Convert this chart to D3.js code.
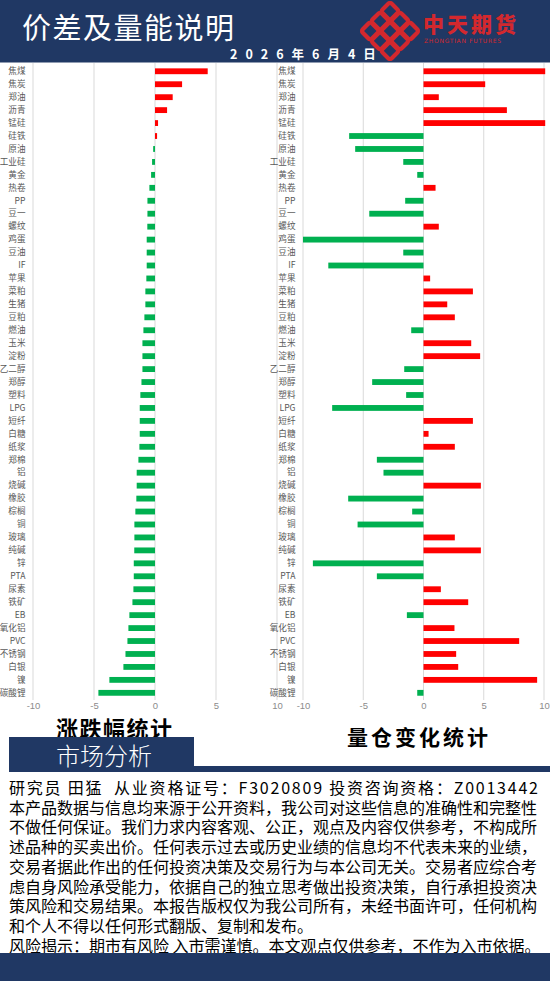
<!DOCTYPE html>
<html><head><meta charset="utf-8">
<script src="https://cdn.jsdelivr.net/npm/d3@7"></script>
<style>body{margin:0;background:#fff;} svg{display:block;}</style>
</head><body>
<svg id="c" width="550" height="981"></svg>
<script>
const categories = ["焦煤","焦炭","郑油","沥青","锰硅","硅铁","原油","工业硅","黄金","热卷","PP","豆一","螺纹","鸡蛋","豆油","IF","苹果","菜粕","生猪","豆粕","燃油","玉米","淀粉","乙二醇","郑醇","塑料","LPG","短纤","白糖","纸浆","郑棉","铝","烧碱","橡胶","棕榈","铜","玻璃","纯碱","锌","PTA","尿素","铁矿","EB","氧化铝","PVC","不锈钢","白银","镍","碳酸锂"];
const changePct = [4.32,2.22,1.45,0.99,0.25,0.17,-0.15,-0.24,-0.32,-0.46,-0.62,-0.62,-0.63,-0.68,-0.68,-0.68,-0.71,-0.79,-0.79,-0.87,-0.95,-1.03,-1.03,-1.03,-1.11,-1.2,-1.25,-1.25,-1.25,-1.28,-1.36,-1.5,-1.5,-1.53,-1.61,-1.69,-1.69,-1.7,-1.74,-1.74,-1.77,-1.85,-2.1,-2.18,-2.26,-2.42,-2.59,-3.74,-4.64];
const volumeChange = [10.1,5.12,1.27,6.92,10.1,-6.17,-5.67,-1.68,-0.52,1.0,-1.52,-4.5,1.27,-10,-1.68,-7.9,0.55,4.1,1.97,2.6,-1.02,3.96,4.7,-1.6,-4.26,-1.44,-7.58,4.1,0.42,2.6,-3.87,-3.32,4.76,-6.25,-0.94,-5.47,2.6,4.76,-9.18,-3.87,1.44,3.71,-1.38,2.57,7.94,2.71,2.88,9.43,-0.52];
const tickValues = [-10,-5,0,5,10];
const titleText = "价差及量能说明";
const dateText = "2026年6月4日";
const leftTitle = "涨跌幅统计";
const rightTitle = "量仓变化统计";
const sectionTitle = "市场分析";
const bodyLines = [
 "研究员 田猛  从业资格证号：F3020809 投资咨询资格：Z0013442",
 "本产品数据与信息均来源于公开资料，我公司对这些信息的准确性和完整性",
 "不做任何保证。我们力求内容客观、公正，观点及内容仅供参考，不构成所",
 "述品种的买卖出价。任何表示过去或历史业绩的信息均不代表未来的业绩，",
 "交易者据此作出的任何投资决策及交易行为与本公司无关。交易者应综合考",
 "虑自身风险承受能力，依据自己的独立思考做出投资决策，自行承担投资决",
 "策风险和交易结果。本报告版权仅为我公司所有，未经书面许可，任何机构",
 "和个人不得以任何形式翻版、复制和发布。",
 "风险揭示：期市有风险 入市需谨慎。本文观点仅供参考，不作为入市依据。"
];

const NAVY = "#203864", RED = "#ff0000", GREEN = "#00b050", GRID = "#d9d9d9";
const FONT = "'Noto Sans CJK SC','Noto Sans',sans-serif";
const svg = d3.select("#c");

// header
svg.append("rect").attr("x",0).attr("y",0).attr("width",550).attr("height",62.5).attr("fill",NAVY);
svg.append("text").attr("x",22).attr("y",26).attr("dominant-baseline","central")
  .attr("fill","#fff").attr("font-family",FONT).attr("font-size",29).attr("letter-spacing",1.5).text(titleText);
svg.append("text").attr("x",230).attr("y",53).attr("dominant-baseline","central")
  .attr("fill","#fff").attr("font-family",FONT).attr("font-weight","bold").attr("font-size",12.5).attr("letter-spacing",8).text(dateText);

// logo
const LOGO_RED = "#d3282e";
const knot = svg.append("g").attr("transform","translate(390,31) rotate(45)");
[-14,0,14].forEach(o=>{
  knot.append("rect").attr("x",-21).attr("y",o-6).attr("width",42).attr("height",12).attr("rx",2)
    .attr("fill","none").attr("stroke",LOGO_RED).attr("stroke-width",3.2);
  knot.append("rect").attr("x",o-6).attr("y",-21).attr("width",12).attr("height",42).attr("rx",2)
    .attr("fill","none").attr("stroke",LOGO_RED).attr("stroke-width",3.2);
});
svg.append("text").attr("x",423).attr("y",22.5).attr("dominant-baseline","central")
  .attr("fill",LOGO_RED).attr("font-family",FONT).attr("font-weight",900).attr("font-size",21).attr("letter-spacing",3).text("中天期货");
svg.append("text").attr("x",424).attr("y",40).attr("dominant-baseline","central")
  .attr("fill",LOGO_RED).attr("font-family","'DejaVu Sans',sans-serif").attr("font-size",6).attr("letter-spacing",0.7).text("ZHONGTIAN FUTURES");

// charts
const y = d3.scaleBand().domain(categories).range([64.8,699.3]).paddingInner(0.55).paddingOuter(0.275);
const plotTop = 63, plotBottom = 700;

function drawChart(values, x, labelX) {
  const g = svg.append("g");
  g.selectAll("line.grid").data(tickValues).join("line")
    .attr("x1",d=>x(d)).attr("x2",d=>x(d)).attr("y1",plotTop).attr("y2",plotBottom)
    .attr("stroke",GRID).attr("stroke-width",1);
  g.selectAll("rect.bar").data(categories).join("rect")
    .attr("x",(c,i)=>x(Math.min(0,values[i])))
    .attr("width",(c,i)=>Math.abs(x(values[i])-x(0)))
    .attr("y",c=>y(c)).attr("height",y.bandwidth())
    .attr("fill",(c,i)=>values[i]>=0?RED:GREEN);
  const ya = g.append("g").attr("transform",`translate(${labelX},0)`)
    .call(d3.axisLeft(y).tickSize(0).tickPadding(0));
  ya.select(".domain").remove();
  ya.selectAll("text").attr("font-family",FONT).attr("font-size",8.6).attr("fill","#595959");
  const xa = g.append("g").attr("transform","translate(0,699)")
    .call(d3.axisBottom(x).tickValues(tickValues).tickSize(0).tickFormat(d=>String(d)));
  xa.select(".domain").remove();
  xa.selectAll("text").attr("font-family","'Liberation Sans',sans-serif").attr("font-size",9.5).attr("fill","#8c8c8c");
}
const xL = d3.scaleLinear().domain([-10,10]).range([33,277]);
const xR = d3.scaleLinear().domain([-10,10]).range([303,544]);
drawChart(changePct, xL, 25.5);
drawChart(volumeChange, xR, 295.5);

// chart titles
svg.append("text").attr("x",56).attr("y",727).attr("dominant-baseline","central")
  .attr("font-family",FONT).attr("font-weight",700).attr("font-size",22).attr("letter-spacing",1.5).attr("fill","#000").text(leftTitle);
svg.append("text").attr("x",347).attr("y",736).attr("dominant-baseline","central")
  .attr("font-family",FONT).attr("font-weight",700).attr("font-size",21).attr("letter-spacing",3).attr("fill","#000").text(rightTitle);

// section box
svg.append("rect").attr("x",9).attr("y",766).attr("width",541).attr("height",6).attr("fill",NAVY);
svg.append("rect").attr("x",9).attr("y",737).attr("width",185).attr("height",35).attr("fill",NAVY);
svg.append("text").attr("x",56).attr("y",754.5).attr("dominant-baseline","central")
  .attr("fill","#fff").attr("font-family",FONT).attr("font-weight",300).attr("font-size",24).text(sectionTitle);

// body text
svg.selectAll("text.body").data(bodyLines).join("text").attr("class","body")
  .attr("x",9).attr("y",(d,i)=>787+i*19.7).attr("dominant-baseline","central")
  .attr("font-family",FONT).attr("font-size",16).attr("fill","#000")
  .style("white-space","pre")
  .attr("textLength",(d,i)=>i===0?529:null).attr("lengthAdjust","spacing")
  .text(d=>d);

// bottom band
svg.append("rect").attr("x",0).attr("y",953).attr("width",550).attr("height",28).attr("fill",NAVY);
</script>
</body></html>
